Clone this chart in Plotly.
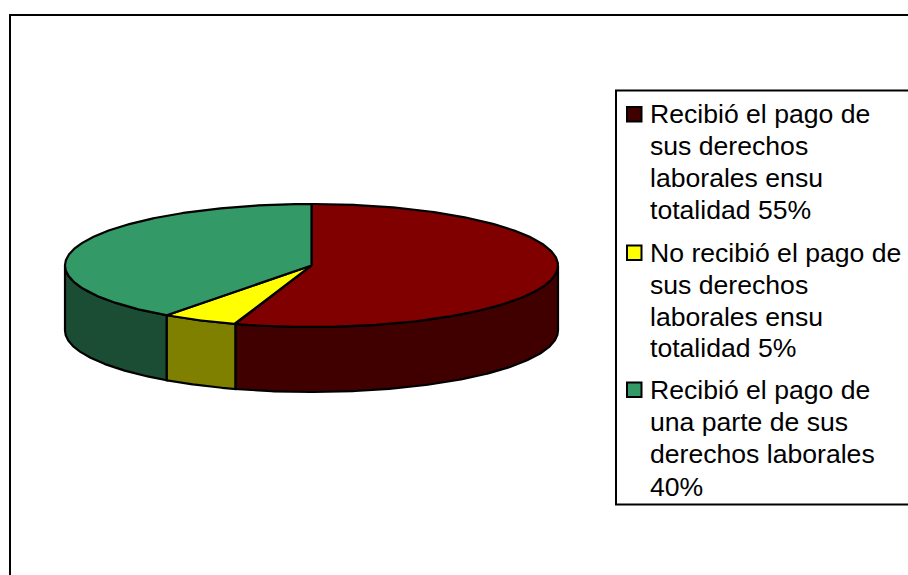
import numpy as np
import plotly.graph_objects as go

# Data
categories = ["Recibió el pago de sus derechos laborales ensu totalidad 55%",
              "No recibió el pago de sus derechos laborales ensu totalidad 5%",
              "Recibió el pago de una parte de sus derechos laborales 40%"]
values = [55, 5, 40]
legend_lines = [
    ["Recibió el pago de", "sus derechos", "laborales ensu", "totalidad 55%"],
    ["No recibió el pago de", "sus derechos", "laborales ensu", "totalidad 5%"],
    ["Recibió el pago de", "una parte de sus", "derechos laborales", "40%"],
]
top_colors = ["#800000", "#FFFF00", "#339966"]
side_colors = ["#400000", "#808000", "#1A4D33"]

# Layout (pixel space of the picture)
W, H = 908, 575
CX, CY, RX, RY, DEPTH = 311.5, 265.5, 246.5, 61.5, 65
FONT = "Liberation Sans"
FONT_SIZE = 26.6
LINE_PAD = 8.5


def ex(a):
    return CX + RX * np.sin(np.radians(a))


def ey(a):
    return CY - RY * np.cos(np.radians(a))


fractions = np.array(values, dtype=float) / sum(values)
edges = np.concatenate([[0], np.cumsum(fractions) * 360])
fig = go.Figure()

# visible outer walls (front half of the ellipse)
for i, name in enumerate(categories):
    a0, a1 = max(edges[i], 90), min(edges[i + 1], 270)
    if a1 <= a0:
        continue
    a = np.linspace(a0, a1, 200)
    xs = np.concatenate([ex(a), ex(a[::-1]), [ex(a[0])]])
    ys = np.concatenate([ey(a), ey(a[::-1]) + DEPTH, [ey(a[0])]])
    fig.add_trace(go.Scatter(x=xs, y=ys, mode="lines", fill="toself",
                             fillcolor=side_colors[i], line=dict(color="black", width=2.2),
                             showlegend=False, name=name, hoverinfo="name"))

# top faces
for i, name in enumerate(categories):
    a = np.linspace(edges[i], edges[i + 1], 300)
    xs = np.concatenate([[CX], ex(a), [CX]])
    ys = np.concatenate([[CY], ey(a), [CY]])
    fig.add_trace(go.Scatter(x=xs, y=ys, mode="lines", fill="toself",
                             fillcolor=top_colors[i], line=dict(color="black", width=2.2),
                             showlegend=False, name=name, hoverinfo="name"))

shapes = [
    dict(type="rect", x0=10, y0=15, x1=W + 20, y1=H + 20,
         line=dict(color="black", width=2), fillcolor="rgba(0,0,0,0)", layer="below"),
    dict(type="rect", x0=616, y0=90.5, x1=W + 20, y1=504.5,
         line=dict(color="black", width=2), fillcolor="white", layer="below"),
]
annotations = []
block_baselines = [[122.7, 154.7, 186.7, 218], [261.7, 293, 325, 356.7], [398.3, 430.7, 462.7, 495]]
swatch_tops = [107, 245.5, 382.5]
for i, lines in enumerate(legend_lines):
    shapes.append(dict(type="rect", x0=627, y0=swatch_tops[i], x1=641.5, y1=swatch_tops[i] + 14.5,
                       line=dict(color="black", width=2),
                       fillcolor=side_colors[0] if i == 0 else top_colors[i], layer="above"))
    for line, base in zip(lines, block_baselines[i]):
        annotations.append(dict(x=649, y=base - LINE_PAD, text=line, showarrow=False,
                                xanchor="left", yanchor="middle", align="left",
                                xref="x", yref="y", borderpad=0,
                                font=dict(family=FONT, size=FONT_SIZE, color="black")))

fig.update_layout(
    width=W, height=H, margin=dict(l=0, r=0, t=0, b=0),
    paper_bgcolor="white", plot_bgcolor="white", showlegend=False,
    xaxis=dict(range=[0, W], visible=False, fixedrange=True),
    yaxis=dict(range=[H, 0], visible=False, fixedrange=True),
    shapes=shapes, annotations=annotations,
)
fig.write_html("out.html", config={"displayModeBar": False},
               post_script="document.body.style.margin='0';document.documentElement.style.overflow='hidden';")
